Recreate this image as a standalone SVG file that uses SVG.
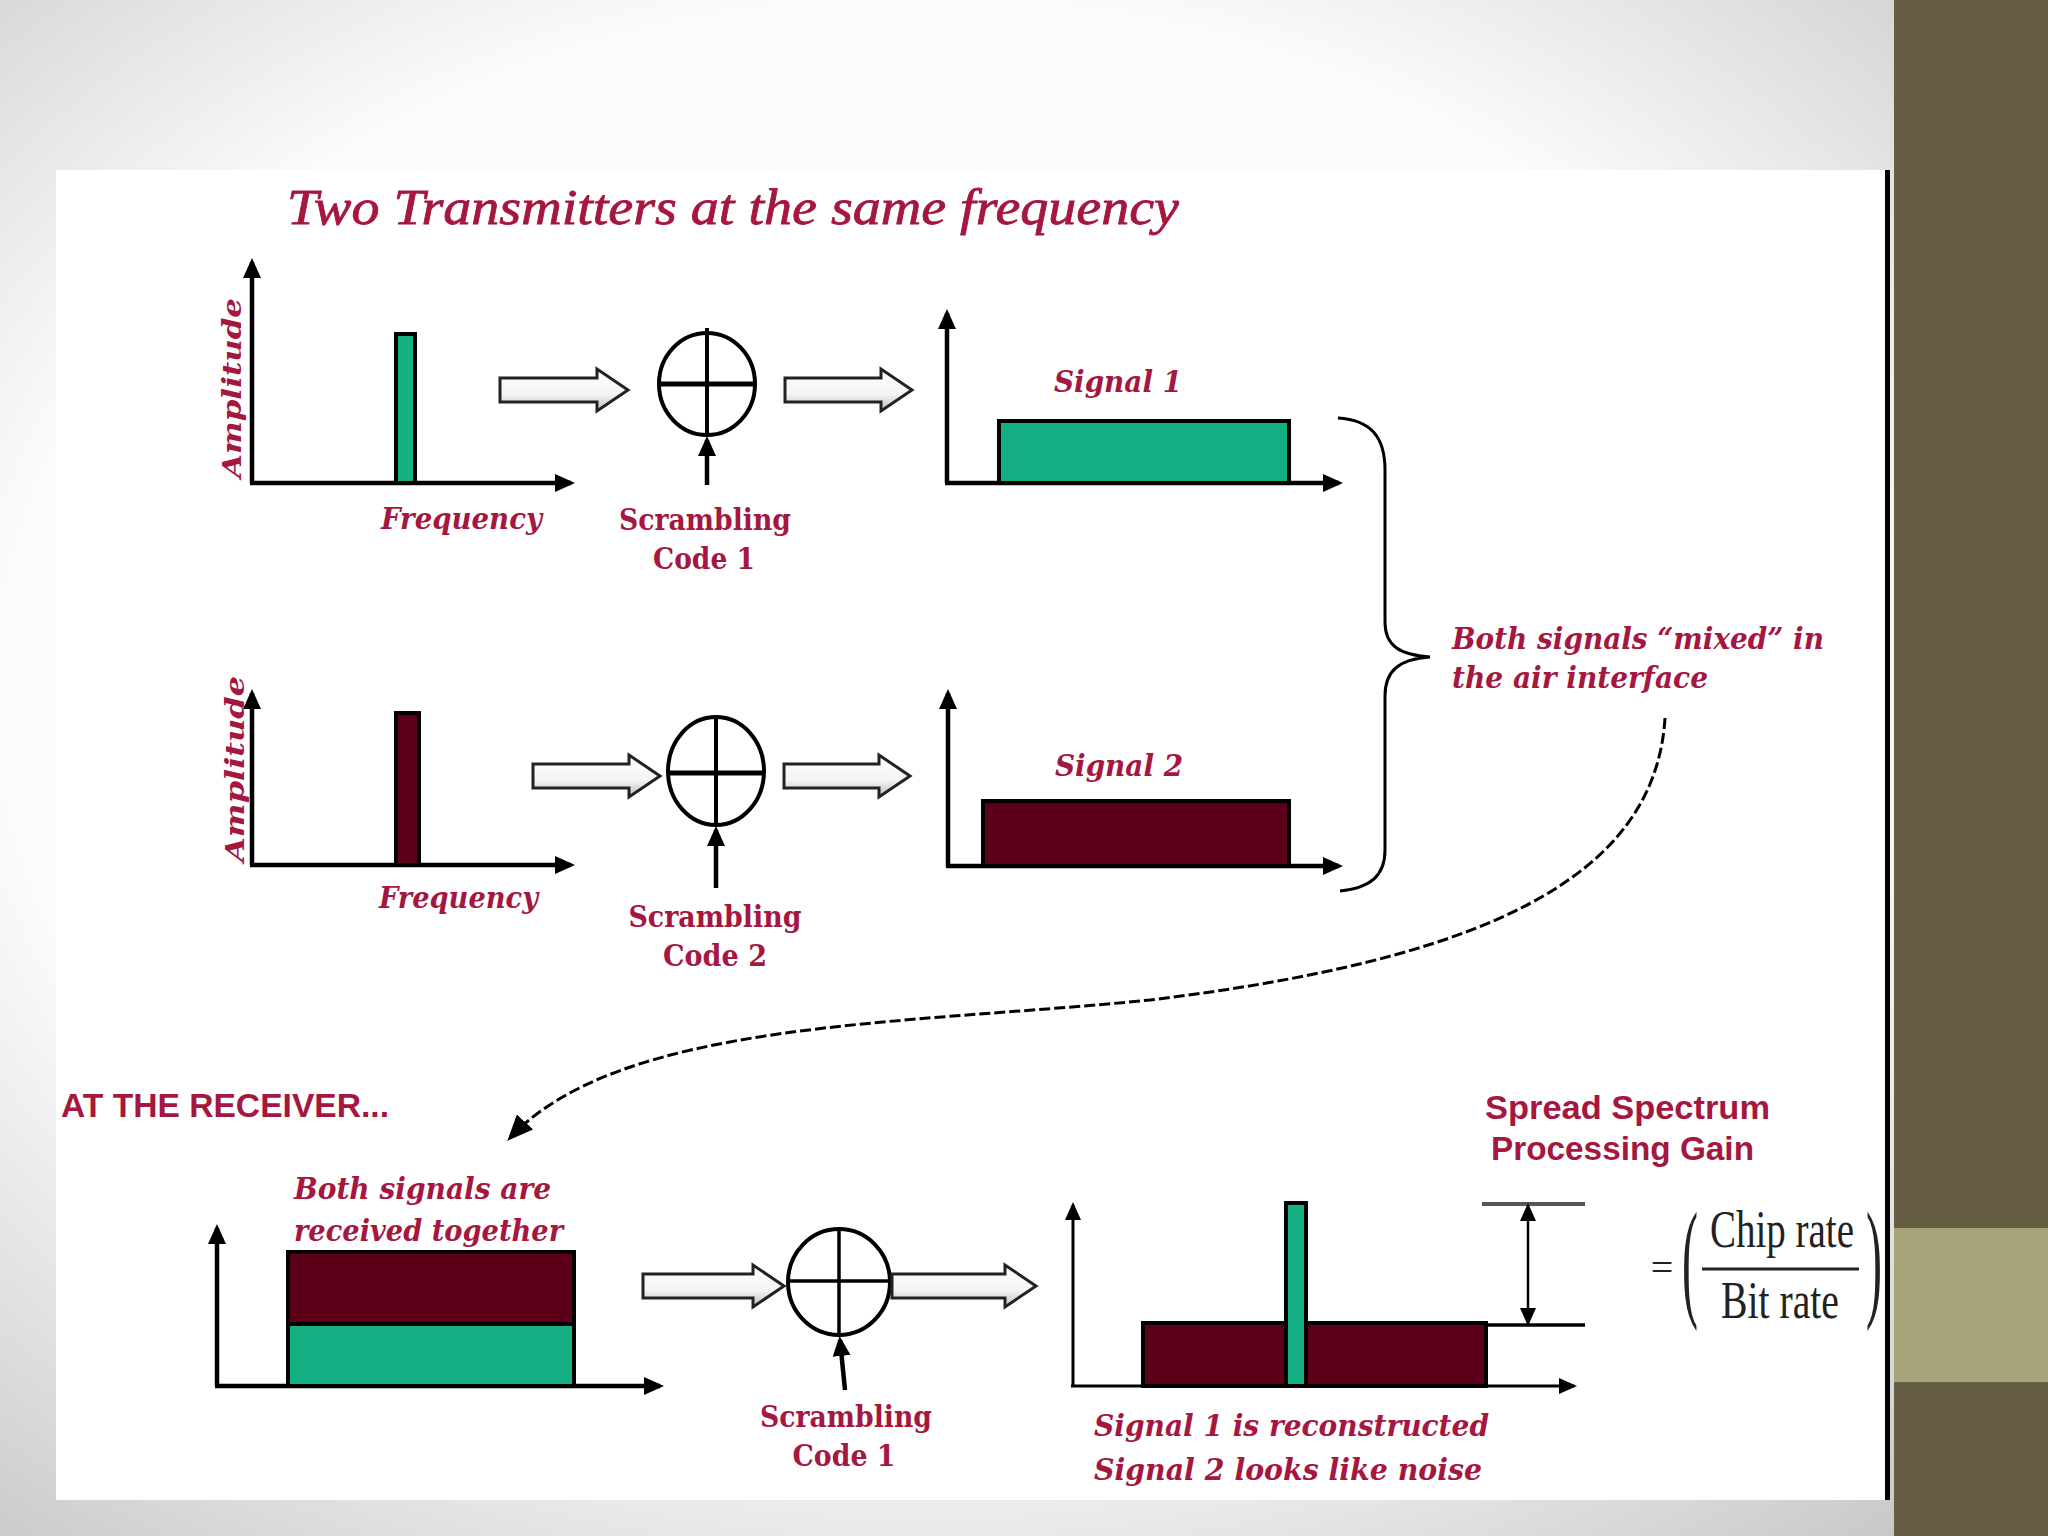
<svg xmlns="http://www.w3.org/2000/svg" width="2048" height="1536" viewBox="0 0 2048 1536">
<defs>
<radialGradient id="bg" cx="0.45" cy="0.45" r="0.75">
<stop offset="0" stop-color="#ffffff"/>
<stop offset="0.6" stop-color="#fbfbfb"/>
<stop offset="1" stop-color="#c4c4c4"/>
</radialGradient>
<linearGradient id="hol" x1="0" y1="0" x2="0" y2="1">
<stop offset="0" stop-color="#ffffff"/>
<stop offset="0.6" stop-color="#f4f4f4"/>
<stop offset="1" stop-color="#bdbdbd"/>
</linearGradient>
<marker id="ax" markerUnits="userSpaceOnUse" markerWidth="20" markerHeight="18" refX="16" refY="9" orient="auto">
<path d="M0,0 L20,9 L0,18 Z" fill="#000"/>
</marker>
<marker id="axs" markerUnits="userSpaceOnUse" markerWidth="18" markerHeight="16" refX="15" refY="8" orient="auto-start-reverse">
<path d="M0,0 L18,8 L0,16 Z" fill="#000"/>
</marker>
<marker id="curveHead" markerUnits="userSpaceOnUse" markerWidth="26" markerHeight="22" refX="22" refY="11" orient="auto">
<path d="M0,0 L26,11 L0,22 Z" fill="#000"/>
</marker>
<style>
.axis{stroke:#000;stroke-width:4.5;fill:none;marker-end:url(#ax)}
.axisT{stroke:#000;stroke-width:3;fill:none;marker-end:url(#axs)}
.green{fill:#14b083;stroke:#000;stroke-width:4}
.dred{fill:#5c0019;stroke:#000;stroke-width:4}
.mix{fill:none;stroke:#000;stroke-width:4}
.hollow{fill:url(#hol);stroke:#222;stroke-width:3;stroke-linejoin:miter}
.lbl{font-family:"DejaVu Serif","Liberation Serif",serif;font-weight:bold;font-style:italic;fill:#a5173f}
.code{font-family:"DejaVu Serif","Liberation Serif",serif;font-weight:bold;fill:#a5173f}
.sans{font-family:"Liberation Sans","DejaVu Sans",sans-serif;font-weight:bold;fill:#a5173f}
.title{font-family:"Liberation Serif","DejaVu Serif",serif;font-style:italic;fill:#a5173f;stroke:#a5173f;stroke-width:0.8}
.math{font-family:"Liberation Serif","Times New Roman",serif;fill:#222}
</style>
</defs>

<!-- background -->
<rect x="0" y="0" width="2048" height="1536" fill="url(#bg)"/>
<rect x="56" y="170" width="1832" height="1330" fill="#ffffff"/>
<rect x="1885" y="170" width="5" height="1330" fill="#000"/>
<rect x="1894" y="0" width="154" height="1536" fill="#665d45"/>
<rect x="1894" y="1228" width="154" height="154" fill="#a7a37b"/>

<text class="title" x="287" y="224" font-size="50" textLength="892" lengthAdjust="spacingAndGlyphs">Two Transmitters at the same frequency</text>

<!-- Row 1 input spectrum -->
<g id="tx1-spectrum">
<line class="axis" x1="252" y1="483" x2="252" y2="262"/>
<line class="axis" x1="250" y1="483" x2="571" y2="483"/>
<rect class="green" x="396" y="334" width="19" height="149"/>
<text class="lbl" transform="translate(241,388) rotate(-90)" text-anchor="middle" font-size="26" textLength="180" lengthAdjust="spacingAndGlyphs">Amplitude</text>
<text class="lbl" x="381" y="529" font-size="29" textLength="161" lengthAdjust="spacingAndGlyphs">Frequency</text>
</g>

<g id="mixer1">
<ellipse class="mix" cx="707" cy="384" rx="48" ry="51"/>
<line x1="659" y1="384" x2="755" y2="384" stroke="#000" stroke-width="5"/>
<line x1="707" y1="328" x2="707" y2="435" stroke="#000" stroke-width="4"/>
<line class="axis" x1="707" y1="485" x2="707" y2="440" stroke-width="3.5"/>
<text class="code" x="705" y="530" font-size="29" text-anchor="middle" textLength="172" lengthAdjust="spacingAndGlyphs">Scrambling</text>
<text class="code" x="704" y="569" font-size="29" text-anchor="middle" textLength="102" lengthAdjust="spacingAndGlyphs">Code 1</text>
</g>

<g id="signal1">
<line class="axis" x1="947" y1="483" x2="947" y2="313"/>
<line class="axis" x1="945" y1="483" x2="1339" y2="483"/>
<rect class="green" x="999" y="421" width="290" height="62"/>
<text class="lbl" x="1054" y="392" font-size="29" textLength="128" lengthAdjust="spacingAndGlyphs">Signal 1</text>
</g>

<!-- Row 2 -->
<g id="tx2-spectrum">
<line class="axis" x1="252" y1="865" x2="252" y2="693"/>
<line class="axis" x1="250" y1="865" x2="571" y2="865"/>
<rect class="dred" x="396" y="713" width="23" height="152"/>
<text class="lbl" transform="translate(244,769) rotate(-90)" text-anchor="middle" font-size="26" textLength="186" lengthAdjust="spacingAndGlyphs">Amplitude</text>
<text class="lbl" x="379" y="908" font-size="29" textLength="159" lengthAdjust="spacingAndGlyphs">Frequency</text>
</g>

<g id="mixer2">
<ellipse class="mix" cx="716" cy="771" rx="48" ry="54"/>
<line x1="668" y1="773" x2="764" y2="773" stroke="#000" stroke-width="5"/>
<line x1="716" y1="715" x2="716" y2="825" stroke="#000" stroke-width="4"/>
<line class="axis" x1="716" y1="888" x2="716" y2="830" stroke-width="3.5"/>
<text class="code" x="715" y="927" font-size="29" text-anchor="middle" textLength="173" lengthAdjust="spacingAndGlyphs">Scrambling</text>
<text class="code" x="715" y="966" font-size="29" text-anchor="middle" textLength="104" lengthAdjust="spacingAndGlyphs">Code 2</text>
</g>

<g id="signal2">
<line class="axis" x1="948" y1="866" x2="948" y2="693"/>
<line class="axis" x1="946" y1="866" x2="1339" y2="866"/>
<rect class="dred" x="983" y="801" width="306" height="65"/>
<text class="lbl" x="1055" y="776" font-size="29" textLength="128" lengthAdjust="spacingAndGlyphs">Signal 2</text>
</g>

<g id="air-interface">
<path d="M1338,418 C1370,420 1385,436 1385,470 L1385,622 C1385,646 1400,655 1430,657 C1400,659 1385,670 1385,696 L1385,850 C1385,876 1370,888 1340,891" fill="none" stroke="#000" stroke-width="3"/>
<text class="lbl" x="1452" y="649" font-size="29" textLength="372" lengthAdjust="spacingAndGlyphs">Both signals “mixed” in</text>
<text class="lbl" x="1452" y="688" font-size="29" textLength="256" lengthAdjust="spacingAndGlyphs">the air interface</text>
</g>

<!-- Receiver -->
<text class="sans" x="61" y="1117" font-size="34" textLength="328" lengthAdjust="spacingAndGlyphs">AT THE RECEIVER...</text>

<g id="received">
<line class="axis" x1="217" y1="1386" x2="217" y2="1228"/>
<line class="axis" x1="215" y1="1386" x2="660" y2="1386"/>
<rect class="dred" x="288" y="1252" width="286" height="72"/>
<rect class="green" x="288" y="1324" width="286" height="62"/>
<text class="lbl" x="294" y="1199" font-size="29" textLength="257" lengthAdjust="spacingAndGlyphs">Both signals are</text>
<text class="lbl" x="294" y="1241" font-size="29" textLength="269" lengthAdjust="spacingAndGlyphs">received together</text>
</g>

<g id="mixer3">
<ellipse class="mix" cx="839" cy="1282" rx="51" ry="53"/>
<line x1="788" y1="1281" x2="890" y2="1281" stroke="#000" stroke-width="3.5"/>
<line x1="839" y1="1229" x2="839" y2="1335" stroke="#000" stroke-width="3.5"/>
<line class="axis" x1="845" y1="1390" x2="840" y2="1340" stroke-width="3.5"/>
<text class="code" x="846" y="1427" font-size="29" text-anchor="middle" textLength="172" lengthAdjust="spacingAndGlyphs">Scrambling</text>
<text class="code" x="844" y="1466" font-size="29" text-anchor="middle" textLength="103" lengthAdjust="spacingAndGlyphs">Code 1</text>
</g>

<g id="recovered">
<line class="axisT" x1="1073" y1="1386" x2="1073" y2="1205"/>
<line class="axisT" x1="1071" y1="1386" x2="1574" y2="1386"/>
<rect class="dred" x="1143" y="1323" width="343" height="63"/>
<rect class="green" x="1286" y="1203" width="20" height="183"/>
<text class="lbl" x="1094" y="1436" font-size="29" textLength="395" lengthAdjust="spacingAndGlyphs">Signal 1 is reconstructed</text>
<text class="lbl" x="1094" y="1480" font-size="29" textLength="388" lengthAdjust="spacingAndGlyphs">Signal 2 looks like noise</text>
</g>

<g id="processing-gain">
<line x1="1482" y1="1204" x2="1585" y2="1204" stroke="#555" stroke-width="4"/>
<line x1="1486" y1="1325" x2="1585" y2="1325" stroke="#000" stroke-width="3.5"/>
<line x1="1528" y1="1206" x2="1528" y2="1323" stroke="#000" stroke-width="2.5" marker-start="url(#axs)" marker-end="url(#axs)"/>
<text class="sans" x="1485" y="1119" font-size="34" textLength="285" lengthAdjust="spacingAndGlyphs">Spread Spectrum</text>
<text class="sans" x="1491" y="1160" font-size="34" textLength="263" lengthAdjust="spacingAndGlyphs">Processing Gain</text>
<text class="math" x="1662" y="1281" font-size="40" text-anchor="middle">=</text>
<text class="math" transform="translate(1682,1303) scale(1,2.75)" font-size="48">(</text>
<text class="math" x="1782" y="1247" font-size="52" text-anchor="middle" textLength="144" lengthAdjust="spacingAndGlyphs">Chip rate</text>
<line x1="1702" y1="1269" x2="1859" y2="1269" stroke="#222" stroke-width="3"/>
<text class="math" x="1780" y="1318" font-size="52" text-anchor="middle" textLength="118" lengthAdjust="spacingAndGlyphs">Bit rate</text>
<text class="math" transform="translate(1866,1303) scale(1,2.75)" font-size="48">)</text>
</g>

<!-- connectors -->
<g id="connectors">
<path class="hollow" d="M500,378 H597 V369 L628,390 L597,411 V402 H500 Z"/>
<path class="hollow" d="M785,378 H881 V369 L912,390 L881,411 V402 H785 Z"/>
<path class="hollow" d="M533,764 H629 V755 L660,776 L629,797 V788 H533 Z"/>
<path class="hollow" d="M784,764 H879 V755 L910,776 L879,797 V788 H784 Z"/>
<path class="hollow" d="M643,1274 H753 V1265 L784,1286 L753,1307 V1298 H643 Z"/>
<path class="hollow" d="M892,1274 H1005 V1265 L1036,1286 L1005,1307 V1298 H892 Z"/>
<path d="M1665,718 C1655,880 1480,960 1150,1000 C900,1025 620,1020 510,1138" fill="none" stroke="#000" stroke-width="3" stroke-dasharray="11,4" marker-end="url(#curveHead)"/>
</g>
</svg>
